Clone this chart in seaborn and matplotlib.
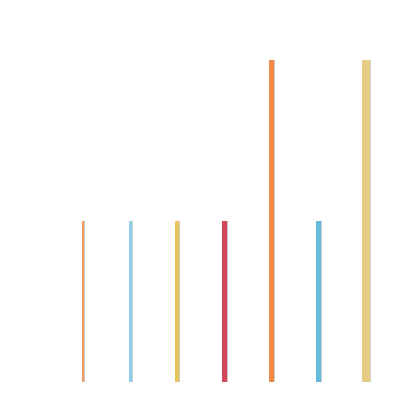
import matplotlib
matplotlib.use("Agg")
import matplotlib.pyplot as plt
import matplotlib.patheffects as pe
import pandas as pd
import seaborn as sns

# data
categories = ["a", "b", "c", "d", "e", "f", "g"]
values = [1, 1, 1, 1, 2, 1, 2]
colors = ["#F29A62", "#8DCFE9", "#E9C45A", "#D1475B", "#F08944", "#68BADA", "#E7CC84"]

# bar thickness in pixels, one per bar (style only)
bar_px = [2, 3, 4, 4.5, 5, 5, 7.5]

df = pd.DataFrame({"cat": categories, "val": values})

sns.set_style("white")
fig = plt.figure(figsize=(4.14, 4.19), dpi=100)
ax = fig.add_axes([0, 0, 1, 1])

sns.barplot(data=df, x="cat", y="val", hue="cat", palette=colors,
            legend=False, ax=ax, width=0.1, saturation=1)

# axes limits so bars land where they sit in the reference
px_per_unit = (366 - 83) / 6.0
ax.set_xlim(-83 / px_per_unit, (414 - 83) / px_per_unit)
ax.set_ylim(-37 / 161.0, 2 + 60 / 161.0)

for patch, w in zip(ax.patches, bar_px):
    cx = patch.get_x() + patch.get_width() / 2
    wd = w / px_per_unit
    patch.set_width(wd)
    patch.set_x(cx - wd / 2)
    patch.set_linewidth(0)
    patch.set_path_effects([pe.SimplePatchShadow(offset=(0.8, -0.3), alpha=0.25),
                            pe.Normal()])

ax.axis("off")
fig.savefig("out.png", dpi=100)
